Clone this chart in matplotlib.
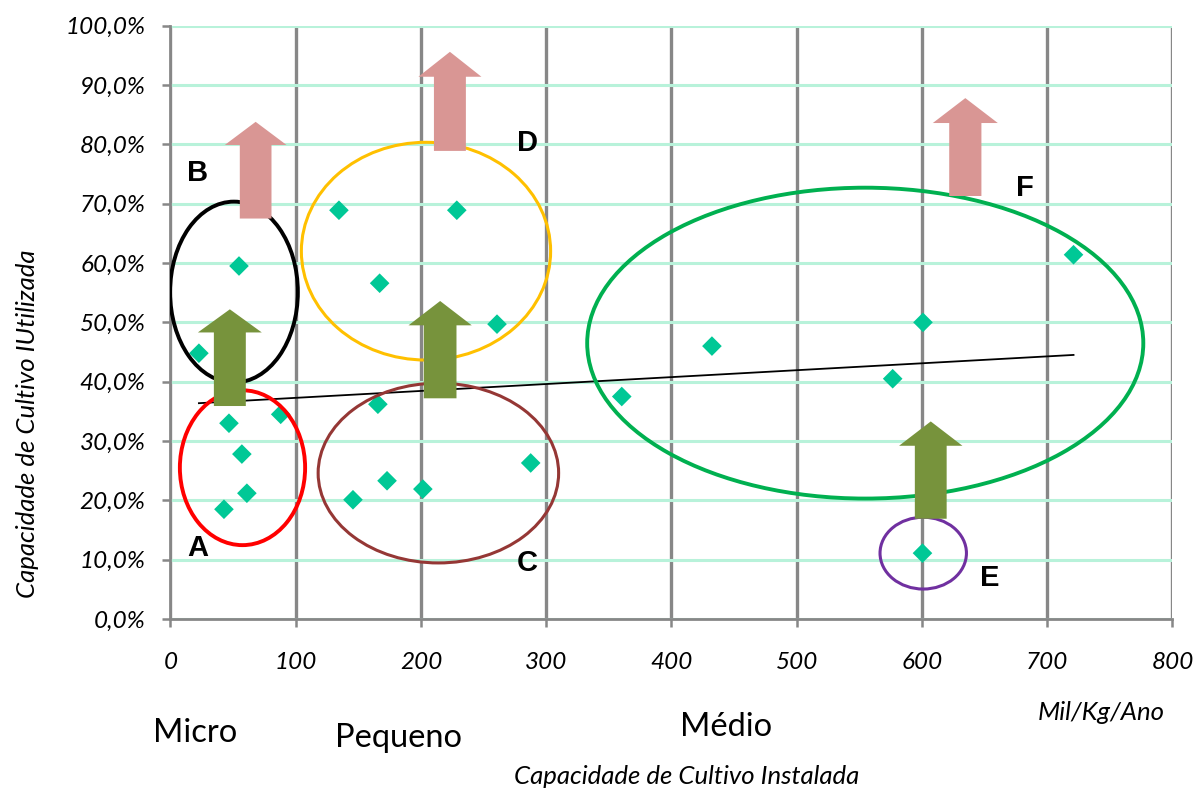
import numpy as np
import matplotlib
matplotlib.use('Agg')
from matplotlib import pyplot as plt
from matplotlib.patches import Ellipse, FancyArrow

# pontos (capacidade instalada, % utilizada)
cap_instalada = [22.7, 46.7, 57, 61, 42.7, 88, 54.7,
                 134.5, 167, 228.6, 260.7, 165.6, 172.9, 145.7, 201.5, 287.6,
                 360.3, 432.3, 600.8, 576.6, 721, 600.4]
cap_utilizada = [44.8, 33.0, 27.8, 21.2, 18.5, 34.5, 59.5,
                 68.9, 56.6, 68.9, 49.7, 36.2, 23.3, 20.1, 21.9, 26.3,
                 37.5, 46.0, 50.0, 40.5, 61.4, 11.1]

x_ticks = [0, 100, 200, 300, 400, 500, 600, 700, 800]
y_ticks = [0, 10, 20, 30, 40, 50, 60, 70, 80, 90, 100]

# grupos: letra, centro x, centro y, largura, altura, cor, espessura, posicao da letra
grupos = [
    ('A', 57.5, 25.5, 100, 26.1, '#FF0000', 2.8, (22, 12.0)),
    ('B', 50.7, 55.1, 102, 30.5, '#000000', 2.8, (22, 75.2)),
    ('C', 213.9, 24.6, 192, 30.3, '#953735', 2.2, (285, 9.4)),
    ('D', 204.0, 62.0, 199, 36.7, '#FFC000', 2.2, (285, 80.3)),
    ('E', 601.0, 11.1, 69, 12.1, '#7030A0', 2.2, (654, 6.9)),
    ('F', 554.7, 46.5, 444, 52.4, '#00B050', 2.8, (682, 72.6)),
]

# setas: x centro, base, ponta, largura haste, largura cabeca, compr. cabeca, cor
setas = [
    (68.0, 67.5, 83.8, 25.3, 49.3, 3.9, '#D99694'),
    (223.1, 78.9, 95.6, 25.5, 50.3, 4.2, '#D99694'),
    (634.6, 71.3, 87.8, 25.7, 51.9, 4.2, '#D99694'),
    (47.4, 35.9, 52.2, 25.5, 51.0, 3.9, '#77933C'),
    (215.3, 37.2, 53.6, 26.1, 50.5, 4.1, '#77933C'),
    (607.0, 16.9, 33.3, 25.4, 50.6, 4.1, '#77933C'),
]

categorias = ['Micro', 'Pequeno', 'Médio']
cat_pos = [(195, 733), (398, 738), (726, 727)]

fig = plt.figure(figsize=(11.98, 7.94), dpi=100)
ax = fig.add_axes([0.1423, 0.2204, 0.8364, 0.7472])
ax.set_xlim(0, 800)
ax.set_ylim(0, 100)

ax.set_xticks(x_ticks)
ax.set_yticks(y_ticks)
ax.set_xticklabels([str(v) for v in x_ticks])
ax.set_yticklabels([('%.1f%%' % v).replace('.', ',') for v in y_ticks])
for lab in ax.get_xticklabels() + ax.get_yticklabels():
    lab.set_family('Lato')
    lab.set_style('italic')
    lab.set_fontsize(17.5)
ax.tick_params(axis='x', direction='out', length=6, width=1.8, color='#878787', pad=18)
ax.tick_params(axis='y', direction='out', length=6, width=1.8, color='#878787', pad=12)

ax.yaxis.grid(True, color='#B8F2DA', lw=2.2)
ax.xaxis.grid(True, color='#878787', lw=2.4)
ax.set_axisbelow(True)
for s in ['top', 'right']:
    ax.spines[s].set_visible(False)
for s in ['left', 'bottom']:
    ax.spines[s].set_color('#878787')
    ax.spines[s].set_linewidth(2.0)

ax.scatter(cap_instalada, cap_utilizada, marker='D', s=100, color='#00C896',
           edgecolors='none', zorder=3)

# linha de tendencia
xs = np.array(cap_instalada)
ys = np.array(cap_utilizada)
a, b = np.polyfit(xs, ys, 1)
xl = np.array([xs.min(), xs.max()])
ax.plot(xl, a * xl + b, color='black', lw=1.3, zorder=4)

for letra, cx, cy, w, h, cor, lw, pos in grupos:
    ax.add_patch(Ellipse((cx, cy), w, h, fill=False, edgecolor=cor, lw=lw, zorder=5))
    ax.text(pos[0], pos[1], letra, fontsize=21, fontweight='bold',
            family='Liberation Sans', ha='center', va='center', zorder=7)

for xc, y0, y1, wd, hw, hl, cor in setas:
    ax.add_patch(FancyArrow(xc, y0, 0, y1 - y0, width=wd, head_width=hw,
                            head_length=hl, length_includes_head=True,
                            color=cor, lw=0, zorder=6))

for nome, (px, py) in zip(categorias, cat_pos):
    fig.text(px / 1198, 1 - py / 794, nome, fontsize=23.5, family='Lato',
             ha='center', va='center')

fig.text(1101 / 1198, 1 - 713 / 794, 'Mil/Kg/Ano', fontsize=18.5, family='Lato',
         style='italic', ha='center', va='center')
fig.text(687 / 1198, 1 - 776 / 794, 'Capacidade de Cultivo Instalada', fontsize=18.5,
         family='Lato', style='italic', ha='center', va='center')
fig.text(28 / 1198, 1 - 424 / 794, 'Capacidade de Cultivo IUtilizada', fontsize=18.5,
         family='Lato', style='italic', ha='center', va='center', rotation=90)

fig.savefig('out.png', dpi=100)
plt.close(fig)
